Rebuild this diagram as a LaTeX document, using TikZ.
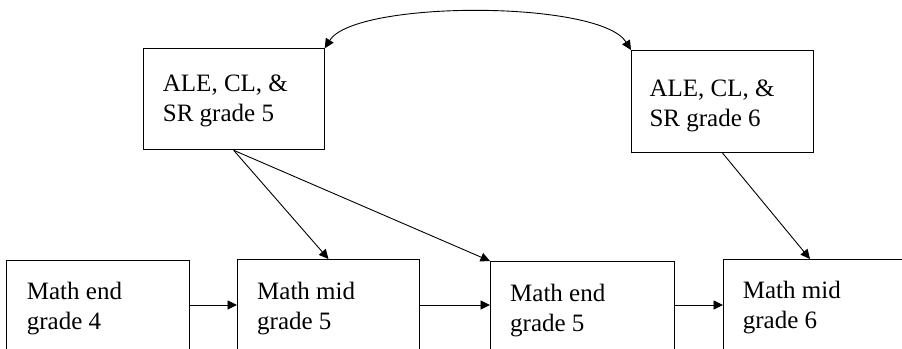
\documentclass[tikz,border=0pt]{standalone}
\usepackage{fontspec}
\setmainfont{Liberation Serif}
\usetikzlibrary{arrows.meta}
\begin{document}
\begin{tikzpicture}[x=1pt,y=-1pt,
  box/.style={draw, line width=1pt, rectangle, inner sep=0pt, anchor=north west},
  txt/.style={inner sep=0pt, anchor=north west, align=left, font=\fontsize{25}{30}\selectfont},
  arr/.style={line width=0.9pt, -{Triangle[length=9.5pt,width=9pt]}},
  darr/.style={line width=0.9pt, {Triangle[length=9.5pt,width=9pt]}-{Triangle[length=9.5pt,width=9pt]}}
]
\useasboundingbox (0,0) rectangle (902,348);
\clip (0,0) rectangle (902,348);
\fill[white] (0,0) rectangle (902,348);

% upper boxes
\node[box, minimum width=181pt, minimum height=101pt] (a5) at (142.7,48.3) {};
\node[box, minimum width=182pt, minimum height=102pt] (a6) at (631,50) {};
\node[txt] (a5t) at (162.7,75) {ALE, CL, \&\\SR grade 5};
\node[txt] (a6t) at (649.3,80) {ALE, CL, \&\\SR grade 6};

% lower boxes (cut by the page edge)
\node[box, minimum width=183pt, minimum height=120pt] (m4) at (6,260) {};
\node[box, minimum width=182pt, minimum height=120pt] (m5) at (237,259) {};
\node[box, minimum width=184pt, minimum height=120pt] (e5) at (490,261) {};
\node[box, minimum width=200pt, minimum height=120pt] (m6) at (723,259) {};
\node[txt] (m4t) at (26.7,282) {Math end\\grade 4};
\node[txt] (m5t) at (257,282) {Math mid\\grade 5};
\node[txt] (e5t) at (510,284) {Math end\\grade 5};
\node[txt] (m6t) at (742.7,281) {Math mid\\grade 6};

\coordinate (hy) at (0,305);
\coordinate (m6top) at (810,259);

% connectors
\draw[darr] (a5.north east) .. controls (355,0) and (600,0) .. (a6.north west);
\draw[arr] (a5.south) -- (m5.north);
\draw[arr] (a5.south) -- (e5.north west);
\draw[arr] (a6.south) -- (m6top);
\draw[arr] (m4.east |- hy) -- (m5.west |- hy);
\draw[arr] (m5.east |- hy) -- (e5.west |- hy);
\draw[arr] (e5.east |- hy) -- (m6.west |- hy);
\end{tikzpicture}
\end{document}
